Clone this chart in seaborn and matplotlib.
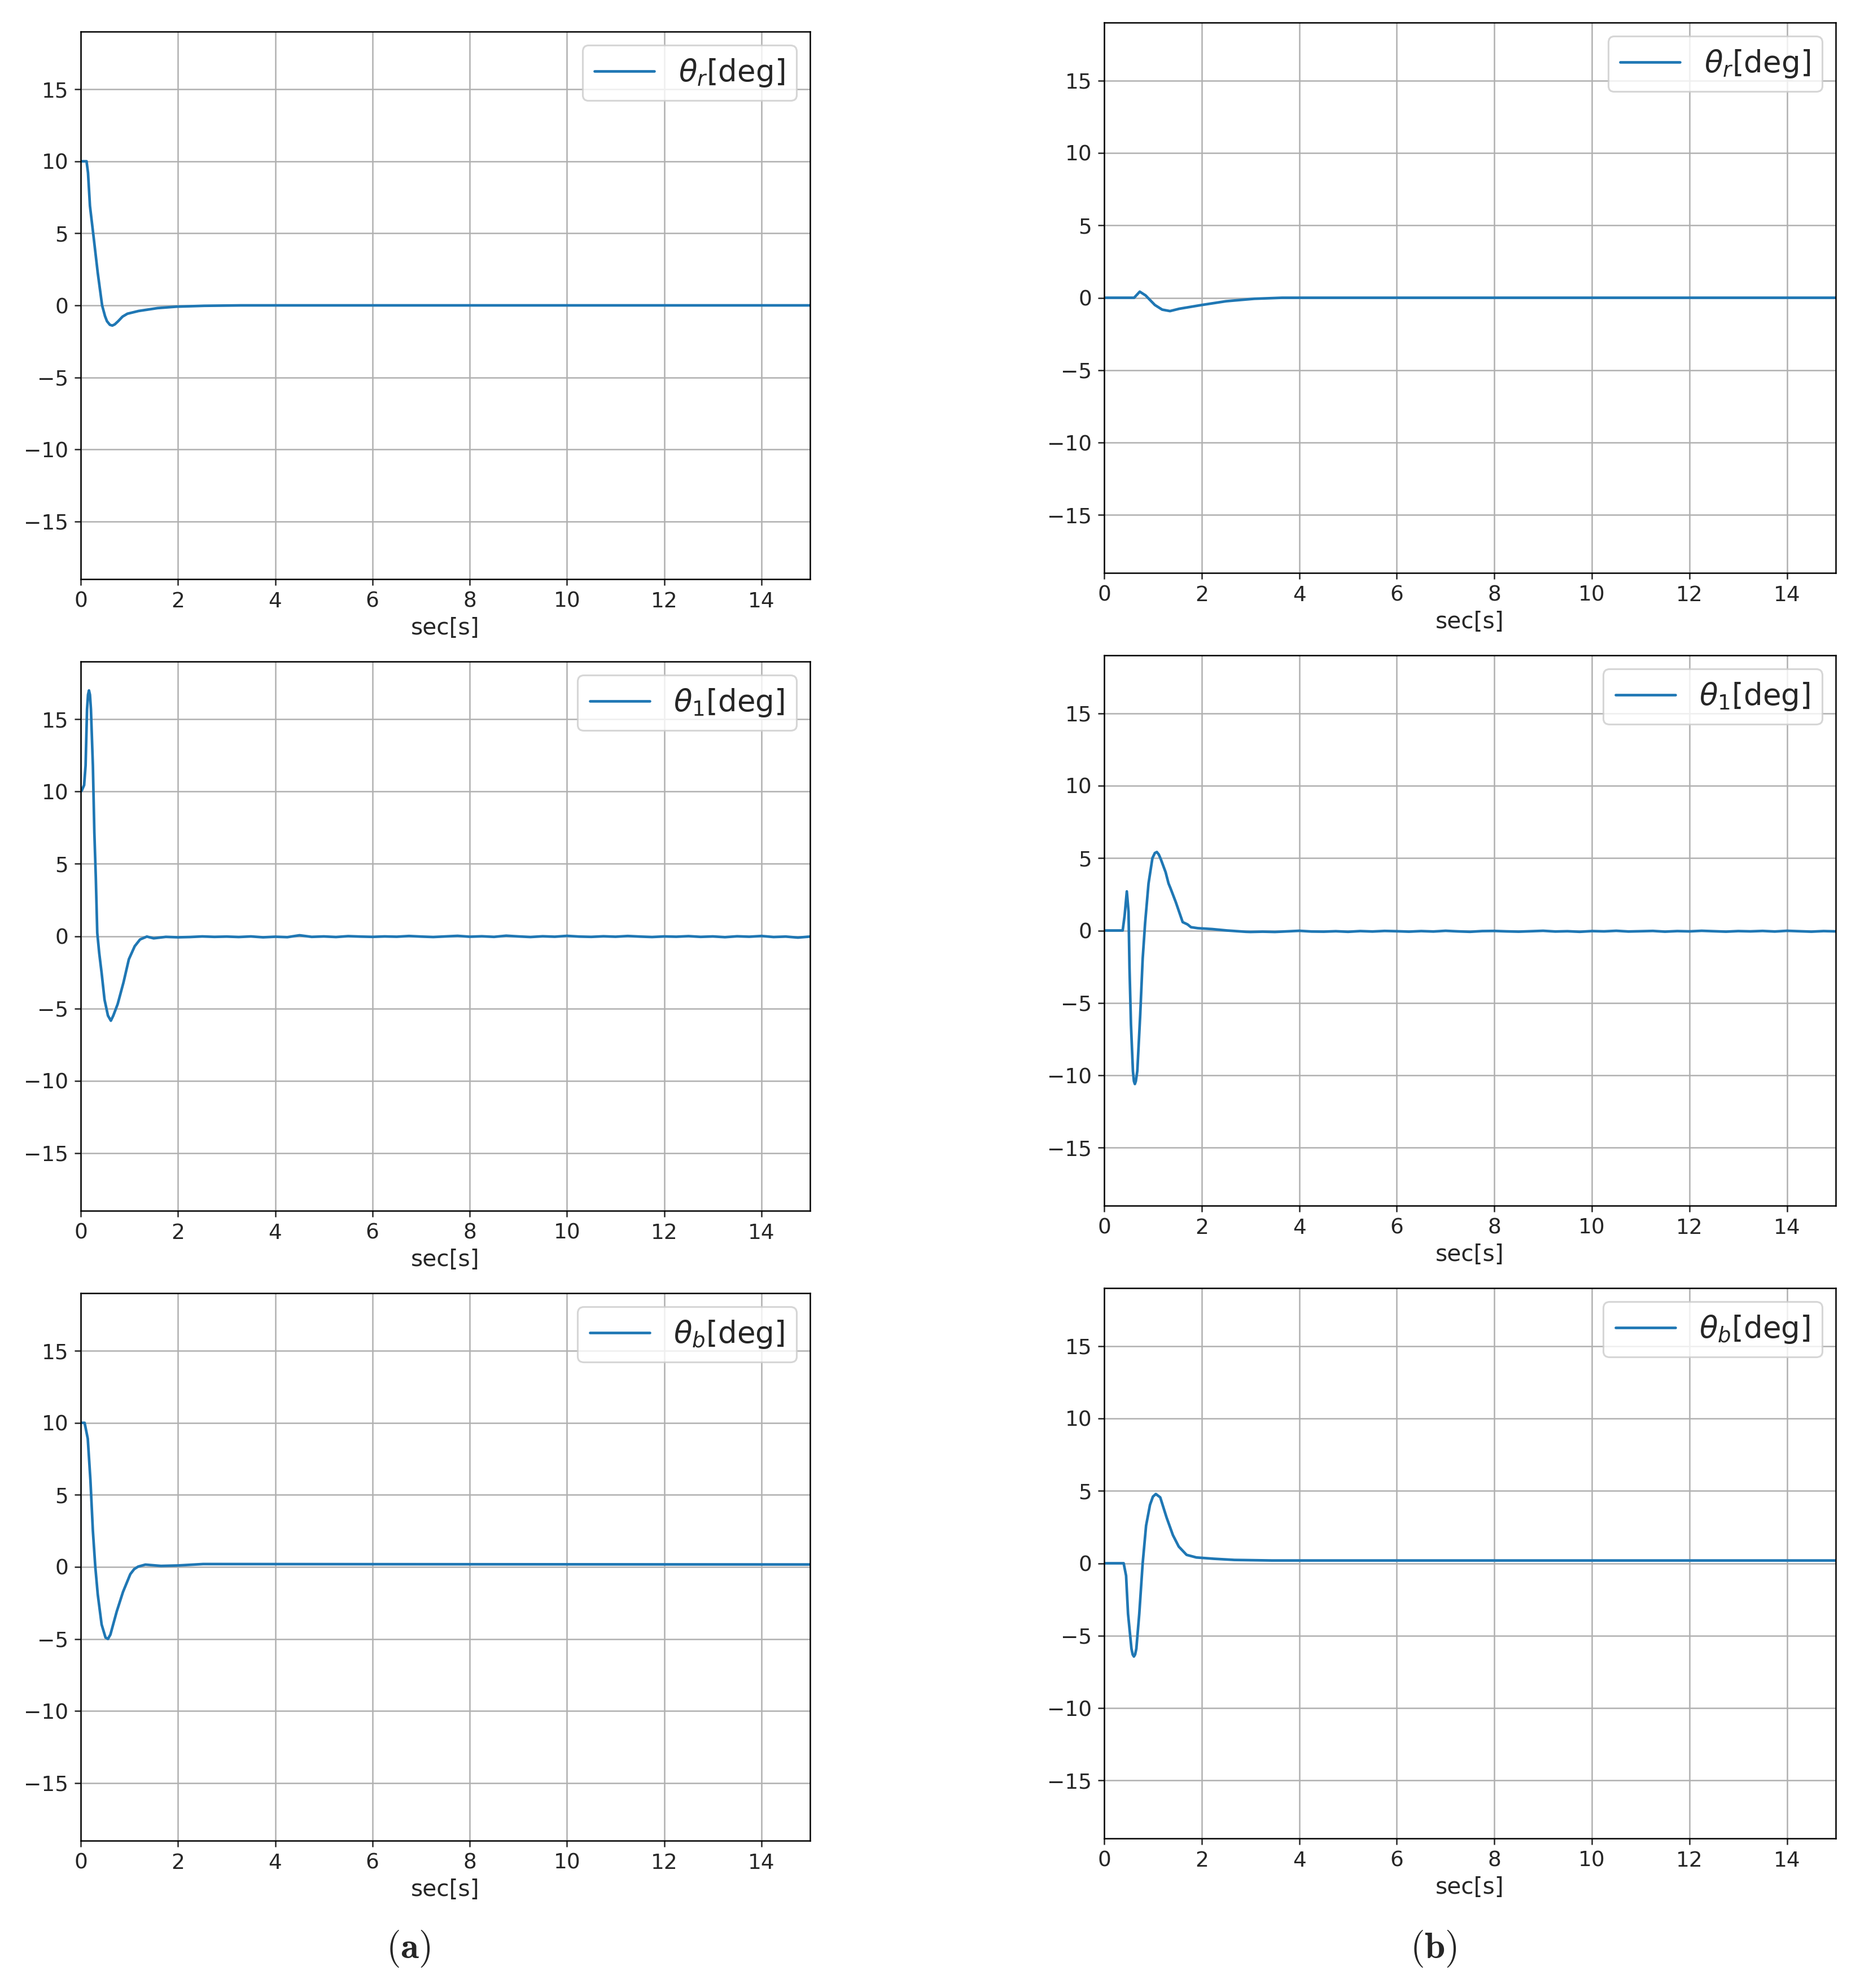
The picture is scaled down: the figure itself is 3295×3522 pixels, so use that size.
"""
Six angle responses, (a) vs (b) controller, 0-15 s
"""

import matplotlib
matplotlib.use("Agg")
import matplotlib.pyplot as plt
import seaborn as sns

# data (time in s, angle in deg)
T_R_A = [0.0, 0.12, 0.15, 0.19, 0.27, 0.35, 0.44, 0.50, 0.54, 0.60, 0.65, 0.70, 0.77, 0.86,
         0.96, 1.19, 1.58, 1.97, 2.54, 3.3, 15.0]
V_R_A = [10.0, 10.0, 9.2, 6.9, 4.6, 2.26, 0.0, -0.75, -1.1, -1.35, -1.4, -1.32, -1.1, -0.78,
         -0.58, -0.39, -0.19, -0.09, -0.03, 0.0, 0.0]

T_R_B = [0.0, 0.615, 0.73, 0.85, 1.04, 1.19, 1.35, 1.54, 2.0, 2.5, 3.08, 3.65, 15.0]
V_R_B = [0.0, 0.0, 0.42, 0.16, -0.5, -0.82, -0.92, -0.76, -0.5, -0.24, -0.07, 0.0, 0.0]

T_1_A = [0.0, 0.02, 0.07, 0.10, 0.13, 0.15, 0.17, 0.19, 0.21, 0.25, 0.28, 0.31, 0.34, 0.38,
         0.43, 0.49, 0.56, 0.62, 0.67, 0.76, 0.88, 0.99, 1.11, 1.22, 1.36]
V_1_A = [10.0, 10.06, 10.45, 11.8, 15.7, 16.7, 17.0, 16.7, 15.7, 11.8, 7.2, 4.1, 0.23, -1.16,
         -2.55, -4.4, -5.5, -5.85, -5.5, -4.7, -3.2, -1.6, -0.7, -0.23, -0.03]

T_1_B = [0.0, 0.38, 0.42, 0.465, 0.50, 0.52, 0.55, 0.59, 0.61, 0.63, 0.65, 0.68, 0.74, 0.79,
         0.84, 0.91, 0.99, 1.04, 1.08, 1.12, 1.16, 1.26, 1.32, 1.36, 1.47, 1.61, 1.71, 1.78,
         1.92, 2.21, 2.52, 2.91]
V_1_B = [0.0, 0.0, 1.04, 2.7, 1.3, -2.6, -6.5, -9.7, -10.4, -10.6, -10.4, -9.7, -5.8, -1.95,
         0.52, 3.25, 5.0, 5.35, 5.42, 5.25, 4.94, 4.03, 3.25, 2.92, 1.95, 0.58, 0.42, 0.23,
         0.16, 0.10, 0.0, -0.09]

# sensor noise tails after settling
TAIL_T = [1.5, 1.75, 2.0, 2.25, 2.5, 2.75, 3.0, 3.25, 3.5, 3.75, 4.0, 4.25, 4.5, 4.75, 5.0,
          5.25, 5.5, 5.75, 6.0, 6.25, 6.5, 6.75, 7.0, 7.25, 7.5, 7.75, 8.0, 8.25, 8.5, 8.75,
          9.0, 9.25, 9.5, 9.75, 10.0, 10.25, 10.5, 10.75, 11.0, 11.25, 11.5, 11.75, 12.0,
          12.25, 12.5, 12.75, 13.0, 13.25, 13.5, 13.75, 14.0, 14.25, 14.5, 14.75, 15.0]
TAIL_1_A = [-0.15, -0.05, -0.08, -0.06, -0.02, -0.05, -0.03, -0.06, -0.02, -0.08, -0.04, -0.07,
            0.06, -0.05, -0.02, -0.06, 0.0, -0.03, -0.05, -0.02, -0.04, 0.01, -0.03, -0.06,
            -0.02, 0.02, -0.04, -0.01, -0.05, 0.03, -0.02, -0.06, -0.01, -0.04, 0.02, -0.03,
            -0.05, -0.01, -0.04, 0.01, -0.03, -0.06, -0.02, -0.04, 0.0, -0.05, -0.02, -0.07,
            -0.01, -0.04, 0.01, -0.06, -0.03, -0.1, -0.03]
TAIL_1_B = [-0.1, -0.08, -0.1, -0.06, -0.02, -0.07, -0.08, -0.05, -0.09, -0.04, -0.07, -0.03,
            -0.05, -0.08, -0.04, -0.07, -0.02, -0.06, -0.09, -0.04, -0.03, -0.06, -0.08, -0.05,
            -0.02, -0.07, -0.05, -0.09, -0.04, -0.06, -0.02, -0.07, -0.05, -0.03, -0.08, -0.04,
            -0.06, -0.02, -0.05, -0.08, -0.04, -0.06, -0.03, -0.07, -0.02, -0.05, -0.08, -0.04,
            -0.06]

T_B_A = [0.0, 0.08, 0.145, 0.20, 0.25, 0.30, 0.35, 0.43, 0.51, 0.56, 0.61, 0.74, 0.87, 1.02,
         1.10, 1.18, 1.33, 1.65, 2.0, 2.52, 6.0, 15.0]
V_B_A = [10.0, 10.0, 8.9, 6.0, 2.5, 0.0, -1.9, -4.0, -4.9, -5.0, -4.7, -3.1, -1.73, -0.5,
         -0.15, 0.02, 0.16, 0.07, 0.1, 0.2, 0.19, 0.17]

T_B_B = [0.0, 0.40, 0.45, 0.49, 0.56, 0.585, 0.61, 0.635, 0.66, 0.72, 0.79, 0.86, 0.94, 1.0,
         1.06, 1.15, 1.28, 1.41, 1.53, 1.69, 1.89, 2.25, 2.67, 3.44, 15.0]
V_B_B = [0.0, 0.0, -0.86, -3.5, -5.9, -6.3, -6.44, -6.3, -5.9, -3.5, 0.0, 2.6, 4.03, 4.6,
         4.78, 4.55, 3.16, 1.94, 1.15, 0.58, 0.40, 0.31, 0.23, 0.19, 0.19]

LABELS = [r"$\theta_r$[deg]", r"$\theta_1$[deg]", r"$\theta_b$[deg]"]

sns.set_theme(style="ticks", rc={
    "axes.edgecolor": "black",
    "axes.linewidth": 0.8,
    "xtick.major.size": 3.5,
    "ytick.major.size": 3.5,
    "xtick.major.width": 0.8,
    "ytick.major.width": 0.8,
    "xtick.labelsize": 12,
    "ytick.labelsize": 12,
    "axes.labelsize": 13,
    "grid.color": "#b0b0b0",
    "grid.linewidth": 0.8,
})
plt.rcParams["font.family"] = ["DejaVu Sans"]

W, H = 3295, 3522
DPI = 225
fig = plt.figure(figsize=(W / DPI, H / DPI), dpi=DPI)


def rect(l, t, r, b):
    return [l / W, 1 - b / H, (r - l) / W, (b - t) / H]


panels = [
    (rect(143, 56, 1435, 1026), T_R_A, V_R_A, LABELS[0]),
    (rect(143, 1172, 1435, 2145), T_1_A + TAIL_T, V_1_A + TAIL_1_A, LABELS[1]),
    (rect(143, 2291, 1435, 3261), T_B_A, V_B_A, LABELS[2]),
    (rect(1956, 40, 3252, 1015), T_R_B, V_R_B, LABELS[0]),
    (rect(1956, 1161, 3252, 2136), T_1_B + TAIL_T[6:], V_1_B + TAIL_1_B, LABELS[1]),
    (rect(1956, 2282, 3252, 3257), T_B_B, V_B_B, LABELS[2]),
]

for pos, t, v, lab in panels:
    ax = fig.add_axes(pos)
    sns.lineplot(x=t, y=v, ax=ax, color="#1f77b4", linewidth=1.5,
                 estimator=None, sort=False, label=lab)
    ax.set_xlim(0, 15)
    ax.set_ylim(-19, 19)
    ax.set_xticks(range(0, 15, 2))
    ax.set_yticks(range(-15, 16, 5))
    ax.grid(True)
    ax.set_xlabel("sec[s]", labelpad=3)
    ax.set_ylabel("")
    for s in ax.spines.values():
        s.set_visible(True)
    ax.legend(loc="upper right", fontsize=17, frameon=True, fancybox=True,
              framealpha=0.8, edgecolor="0.8", borderaxespad=0.45)

fig.text(723 / W, 1 - 3452 / H, r"$(\mathbf{a})$", ha="center", va="center",
         fontsize=21, math_fontfamily="cm")
fig.text(2540 / W, 1 - 3452 / H, r"$(\mathbf{b})$", ha="center", va="center",
         fontsize=21, math_fontfamily="cm")

fig.savefig("out.png", dpi=DPI, facecolor="white")
